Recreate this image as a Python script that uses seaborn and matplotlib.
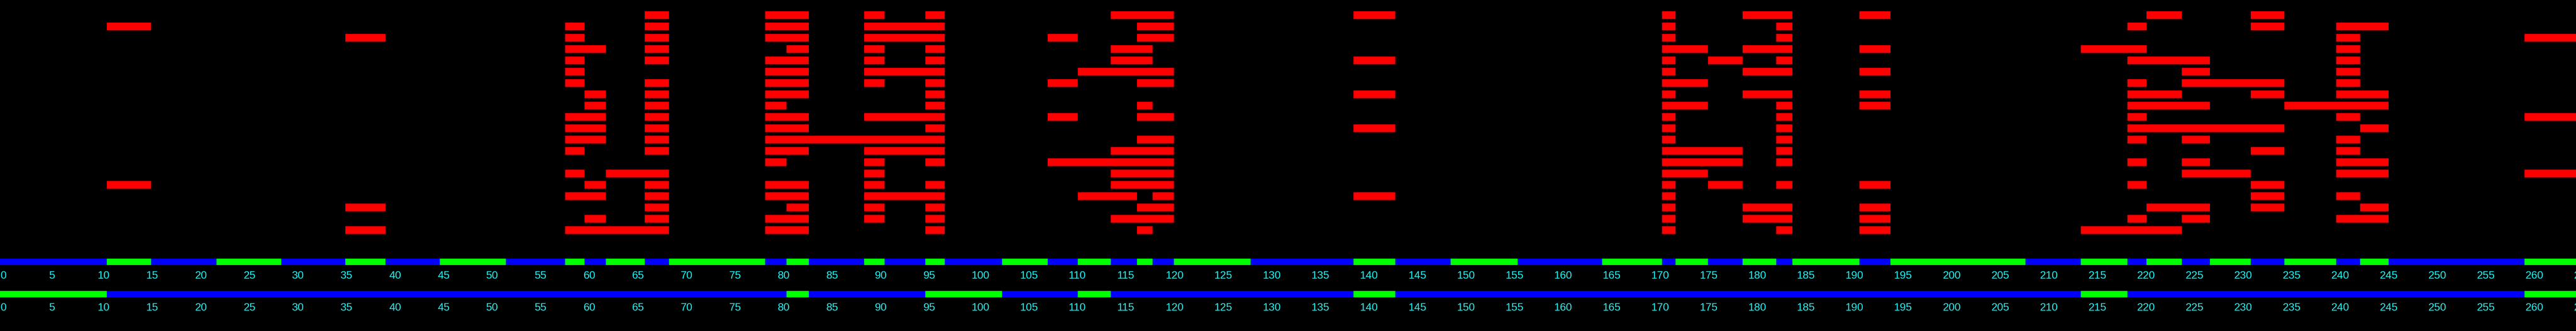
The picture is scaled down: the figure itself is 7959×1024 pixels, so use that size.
import numpy as np
import pandas as pd
import matplotlib
matplotlib.use("Agg")
import matplotlib.pyplot as plt
import seaborn as sns

# red scanline segments per glyph: (row, start, end) in x-units
glyph_a = [(1, 11.0, 15.57), (15, 11.0, 15.57)]
glyph_b = [(2, 35.56, 39.7), (17, 35.56, 39.7), (19, 35.56, 39.7)]
glyph_c = [
    (0, 66.4, 68.9),
    (1, 58.2, 60.2), (1, 66.4, 68.9),
    (2, 58.2, 60.2), (2, 66.4, 68.9),
    (3, 58.2, 62.4), (3, 66.4, 68.9),
    (4, 58.2, 60.2), (4, 66.4, 68.9),
    (5, 58.2, 60.2),
    (6, 58.2, 60.2), (6, 66.4, 68.9),
    (7, 60.2, 62.4), (7, 66.4, 68.9),
    (8, 60.2, 62.4), (8, 66.4, 68.9),
    (9, 58.2, 62.4), (9, 66.4, 68.9),
    (10, 58.2, 62.4), (10, 66.4, 68.9),
    (11, 58.2, 62.4), (11, 66.4, 68.9),
    (12, 58.2, 60.2), (12, 66.4, 68.9),
    (14, 58.2, 60.2), (14, 62.4, 68.9),
    (15, 60.2, 62.4), (15, 66.4, 68.9),
    (16, 58.2, 62.4), (16, 66.4, 68.9),
    (17, 66.4, 68.9),
    (18, 60.2, 62.4), (18, 66.4, 68.9),
    (19, 58.2, 68.9),
]
glyph_d = [
    (0, 78.8, 83.3), (0, 89.0, 91.1), (0, 95.3, 97.3),
    (1, 78.8, 83.3), (1, 89.0, 97.3),
    (2, 78.8, 83.3), (2, 89.0, 97.3),
    (3, 81.0, 83.3), (3, 89.0, 91.1), (3, 95.3, 97.3),
    (4, 78.8, 83.3), (4, 89.0, 91.1), (4, 95.3, 97.3),
    (5, 78.8, 83.3), (5, 89.0, 97.3),
    (6, 78.8, 83.3), (6, 89.0, 91.1), (6, 95.3, 97.3),
    (7, 78.8, 83.3), (7, 95.3, 97.3),
    (8, 78.8, 81.0), (8, 95.3, 97.3),
    (9, 78.8, 83.3), (9, 89.0, 97.3),
    (10, 78.8, 83.3), (10, 95.3, 97.3),
    (11, 78.8, 97.3),
    (12, 78.8, 83.3), (12, 89.0, 97.3),
    (13, 78.8, 81.0), (13, 89.0, 91.1), (13, 95.3, 97.3),
    (14, 89.0, 91.1),
    (15, 78.8, 83.3), (15, 89.0, 91.1), (15, 95.3, 97.3),
    (16, 78.8, 83.3), (16, 89.0, 97.3),
    (17, 81.0, 83.3), (17, 89.0, 91.1), (17, 95.3, 97.3),
    (18, 78.8, 83.3), (18, 89.0, 91.1), (18, 95.3, 97.3),
    (19, 78.8, 83.3), (19, 95.3, 97.3),
]
glyph_e = [
    (0, 114.4, 120.9),
    (1, 117.1, 120.9),
    (2, 107.9, 111.0), (2, 117.1, 120.9),
    (3, 114.4, 118.7),
    (4, 114.4, 118.7),
    (5, 111.0, 120.9),
    (6, 107.9, 111.0), (6, 117.1, 120.9),
    (8, 117.1, 118.7),
    (9, 107.9, 111.0), (9, 117.1, 120.9),
    (11, 117.1, 120.9),
    (12, 114.4, 120.9),
    (13, 107.9, 120.9),
    (14, 114.4, 120.9),
    (15, 114.4, 120.9),
    (16, 111.0, 117.1), (16, 118.7, 120.9),
    (17, 117.1, 120.9),
    (18, 114.4, 120.9),
    (19, 117.1, 118.7),
]
glyph_f = [(0, 139.4, 143.7), (4, 139.4, 143.7), (7, 139.4, 143.7),
           (10, 139.4, 143.7), (16, 139.4, 143.7)]
glyph_g = [
    (0, 171.17, 172.57), (0, 179.47, 184.6), (0, 191.5, 194.7),
    (1, 171.17, 172.57), (1, 182.93, 184.6),
    (2, 171.17, 172.57), (2, 182.93, 184.6),
    (3, 171.17, 175.9), (3, 179.47, 184.6), (3, 191.5, 194.7),
    (4, 171.17, 172.57), (4, 175.9, 179.47), (4, 182.93, 184.6),
    (5, 171.17, 172.57), (5, 179.47, 184.6), (5, 191.5, 194.7),
    (6, 171.17, 175.9),
    (7, 171.17, 172.57), (7, 179.47, 184.6), (7, 191.5, 194.7),
    (8, 171.17, 175.9), (8, 182.93, 184.6), (8, 191.5, 194.7),
    (9, 171.17, 172.57), (9, 182.93, 184.6),
    (10, 171.17, 172.57), (10, 182.93, 184.6),
    (11, 171.17, 172.57), (11, 182.93, 184.6),
    (12, 171.17, 179.47), (12, 182.93, 184.6),
    (13, 171.17, 179.47), (13, 182.93, 184.6),
    (14, 171.17, 175.9),
    (15, 171.17, 172.57), (15, 175.9, 179.47), (15, 182.93, 184.6), (15, 191.5, 194.7),
    (16, 171.17, 172.57),
    (17, 171.17, 172.57), (17, 179.47, 184.6), (17, 191.5, 194.7),
    (18, 171.17, 172.57), (18, 179.47, 184.6), (18, 191.5, 194.7),
    (19, 171.17, 172.57), (19, 182.93, 184.6), (19, 191.5, 194.7),
]
glyph_h = [
    (0, 221.07, 224.7), (0, 231.8, 235.27),
    (1, 219.1, 221.07), (1, 231.8, 235.27), (1, 240.6, 246.0),
    (2, 240.6, 243.07),
    (3, 214.3, 221.07), (3, 240.6, 243.07),
    (4, 219.1, 227.6), (4, 240.6, 243.07),
    (5, 224.7, 227.6), (5, 240.6, 243.07),
    (6, 219.1, 221.07), (6, 224.7, 235.27), (6, 240.6, 243.07),
    (7, 219.1, 224.7), (7, 231.8, 235.27), (7, 240.6, 246.0),
    (8, 219.1, 227.6), (8, 235.27, 246.0),
    (9, 219.1, 221.07), (9, 240.6, 243.07),
    (10, 219.1, 235.27), (10, 243.07, 246.0),
    (11, 219.1, 221.07), (11, 224.7, 227.6), (11, 240.6, 243.07),
    (12, 231.8, 235.27), (12, 240.6, 243.07),
    (13, 219.1, 221.07), (13, 224.7, 227.6), (13, 240.6, 246.0),
    (14, 224.7, 231.8), (14, 240.6, 246.0),
    (15, 219.1, 221.07), (15, 231.8, 235.27),
    (16, 231.8, 235.27), (16, 240.6, 243.07),
    (17, 221.07, 227.6), (17, 231.8, 235.27), (17, 243.07, 246.0),
    (18, 219.1, 221.07), (18, 224.7, 227.6), (18, 240.6, 246.0),
    (19, 214.3, 224.7),
]
glyph_i = [(2, 260.0, 266.0), (9, 260.0, 266.0), (14, 260.0, 266.0)]

# strips: green runs on a blue band
strip1_green = [(11.0, 15.57), (22.3, 28.95), (35.56, 39.7), (45.3, 52.1),
                (58.2, 60.2), (62.4, 66.4), (68.9, 78.8), (81.0, 83.3),
                (89.0, 91.1), (95.3, 97.3), (103.2, 107.9), (111.0, 114.4),
                (117.1, 118.7), (120.9, 128.8), (139.4, 143.7), (149.4, 156.3),
                (165.0, 171.17), (172.57, 175.9), (179.47, 182.93), (184.6, 191.5),
                (194.7, 208.6), (214.3, 219.1), (221.07, 224.7), (227.6, 231.8),
                (235.27, 240.6), (243.07, 246.0), (260.0, 266.0)]
strip2_green = [(0.0, 11.0), (81.0, 83.3), (95.3, 103.2), (111.0, 114.4),
                (139.4, 143.7), (214.3, 219.1), (260.0, 266.0)]
tick_values = list(range(0, 270, 5))

W, H = 7959, 1024
PX = 30.0  # pixels per x unit
x_max = W / PX

sns.set_theme(style="dark", rc={"axes.facecolor": "black", "figure.facecolor": "black"})
plt.rcParams["font.family"] = ["Liberation Sans", "DejaVu Sans"]

segs = pd.DataFrame(glyph_a + glyph_b + glyph_c + glyph_d + glyph_e + glyph_f
                    + glyph_g + glyph_h + glyph_i, columns=["row", "start", "end"])

fig = plt.figure(figsize=(W / 100, H / 100), dpi=100)
ax = fig.add_axes([0, 0, 1, 1])
ax.set_xlim(0, x_max)
ax.set_ylim(H, 0)
ax.set_axis_off()

# rows: 24px tall, 35px pitch, first top at y=35
ax.barh(47 + 35 * segs["row"], segs["end"] - segs["start"], left=segs["start"],
        height=24, color="#ff0000", linewidth=0)

for yc, greens, base in [(810, strip1_green, 862), (910, strip2_green, 961)]:
    ax.barh(yc, x_max, left=0, height=20, color="#0000ff", linewidth=0)
    g = np.array(greens)
    ax.barh(np.full(len(g), yc), g[:, 1] - g[:, 0], left=g[:, 0],
            height=20, color="#00ff00", linewidth=0)
    for t in tick_values:
        ax.text(t + 2 / PX, base, str(t), color="#22eeee", fontsize=24,
                ha="left", va="baseline")

fig.savefig("out.png", dpi=100, facecolor="black")
